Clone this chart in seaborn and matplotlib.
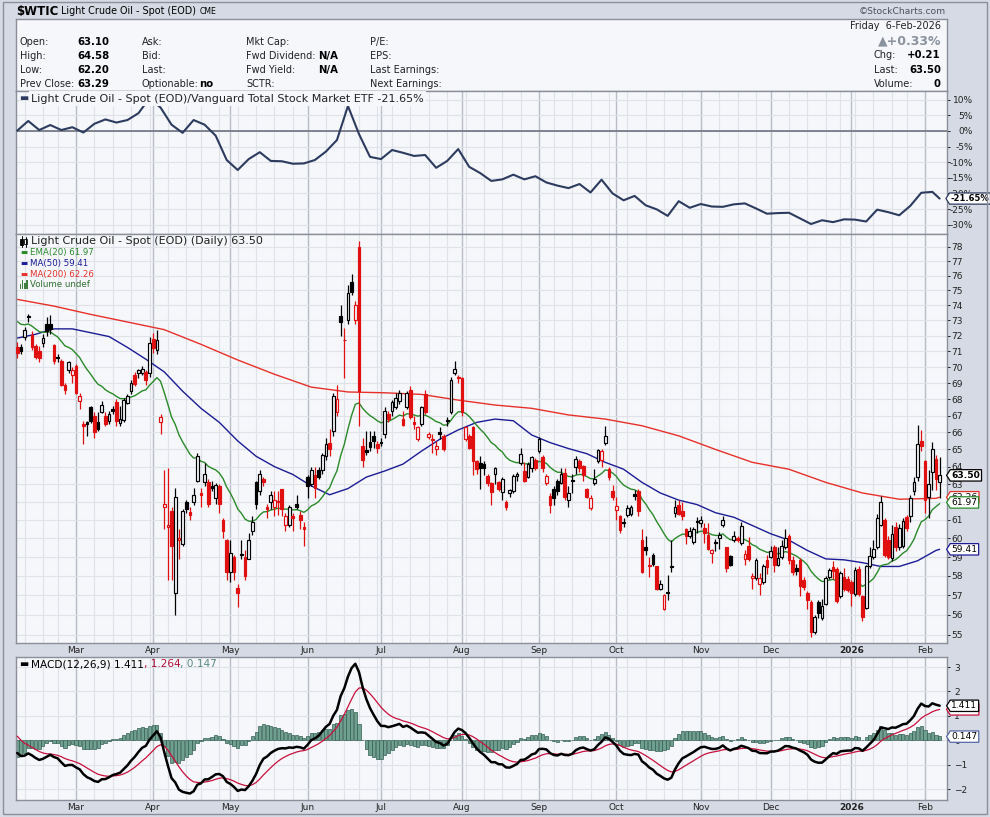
import numpy as np
import pandas as pd
import matplotlib
matplotlib.use("Agg")
import matplotlib.pyplot as plt
import seaborn as sns
from matplotlib.path import Path
from matplotlib.patches import Rectangle
from matplotlib.lines import Line2D
from matplotlib.ticker import FixedLocator, FixedFormatter, NullLocator

# ---------------- data ----------------
holidays = ["2025-02-17", "2025-04-18", "2025-05-26", "2025-06-19", "2025-07-04",
            "2025-09-01", "2025-11-27", "2025-12-25", "2026-01-01", "2026-01-19"]
dates = pd.bdate_range("2025-02-06", "2026-02-06", freq="C", holidays=holidays)

opens = [71.3, 71.3, 71.95, 73.2, 72.05, 71.35, 71.0, 71.55, 72.8, 72.75,
         71.4, 70.6, 70.4, 68.85, 69.8, 69.5, 70.1, 67.9, 66.5, 66.6,
         67.5, 67.0, 66.65, 67.25, 67.0, 66.7, 67.4, 67.85, 66.55, 66.75,
         67.8, 68.5, 69.5, 69.6, 69.65, 69.7, 69.6, 71.8, 71.1, 66.6,
         61.7, 60.6, 61.5, 57.1, 59.9, 59.7, 62.0, 61.45, 62.0, 63.2,
         62.5, 63.1, 63.1, 62.9, 62.2, 62.9, 61.0, 59.9, 58.2, 59.0,
         57.4, 59.15, 59.0, 58.9, 60.4, 63.1, 62.6, 63.3, 61.7, 62.0,
         61.7, 62.05, 62.7, 60.7, 60.7, 61.2, 61.9, 61.3, 60.6, 63.4,
         63.0, 63.5, 63.8, 63.8, 64.6, 65.4, 66.1, 67.2, 73.3, 71.75,
         73.0, 75.6, 73.0, 78.0, 65.2, 64.95, 65.45, 65.8, 65.3, 65.45,
         65.9, 67.1, 67.3, 67.5, 67.9, 66.8, 67.5, 68.6, 66.6, 65.6,
         66.5, 68.3, 65.75, 65.6, 65.0, 66.0, 65.8, 66.75, 67.25, 69.6,
         69.4, 69.3, 65.6, 65.8, 66.3, 64.3, 64.2, 64.15, 63.45, 63.05,
         63.6, 63.1, 62.55, 62.0, 62.5, 62.6, 63.45, 64.2, 63.75, 63.4,
         63.9, 64.4, 64.9, 64.55, 63.05, 62.35, 62.7, 63.15, 63.05, 63.65,
         62.1, 63.25, 64.0, 64.3, 64.05, 62.7, 61.65, 63.05, 64.3, 64.4,
         65.4, 63.85, 62.6, 61.55, 61.2, 60.9, 61.3, 61.35, 62.45, 62.6,
         59.9, 59.55, 58.55, 59.1, 58.5, 57.35, 56.3, 57.15, 58.5, 61.4,
         61.85, 61.5, 60.5, 60.1, 59.8, 60.95, 60.85, 60.55, 60.2, 59.2,
         59.8, 60.0, 60.7, 59.55, 59.05, 59.9, 60.0, 59.75, 58.9, 59.6,
         57.9, 57.9, 57.6, 57.7, 58.85, 59.0, 59.55, 58.6, 59.0, 59.55,
         60.15, 58.85, 58.4, 58.85, 57.8, 57.1, 56.65, 55.15, 56.65, 55.85,
         56.55, 57.95, 58.45, 58.35, 56.95, 57.95, 57.85, 57.7, 57.05, 58.35,
         56.95, 56.35, 58.5, 59.0, 59.55, 60.75, 61.0, 59.9, 58.95, 60.6,
         59.55, 59.6, 61.15, 61.2, 62.6, 63.4, 65.5, 64.3, 62.3, 63.7,
         64.45, 63.10]
highs = [71.6, 71.5, 72.6, 73.4, 72.3, 71.5, 71.35, 72.1, 73.2, 73.35,
         71.5, 70.8, 70.5, 69.0, 70.4, 70.0, 70.2, 68.4, 66.7, 66.7,
         67.6, 67.2, 67.2, 67.9, 67.2, 67.3, 67.6, 68.0, 67.6, 68.1,
         68.3, 69.2, 69.7, 69.9, 70.1, 69.8, 71.9, 72.2, 72.4, 67.1,
         63.8, 63.9, 61.7, 62.8, 60.5, 61.6, 62.1, 61.7, 62.8, 64.8,
         62.8, 64.2, 63.3, 63.2, 63.05, 63.0, 61.1, 59.95, 59.9, 59.1,
         57.6, 59.9, 59.4, 60.3, 61.2, 63.2, 63.8, 63.4, 61.9, 62.6,
         62.6, 62.6, 62.75, 61.4, 61.8, 61.4, 62.4, 61.5, 60.9, 63.5,
         64.0, 64.0, 64.0, 64.8, 65.7, 66.2, 68.4, 68.9, 74.0, 72.5,
         75.4, 76.1, 74.3, 78.4, 65.7, 66.1, 66.1, 66.1, 65.5, 65.7,
         67.5, 67.3, 67.95, 68.4, 68.6, 67.3, 68.5, 68.8, 67.0, 66.4,
         67.6, 68.6, 66.0, 65.9, 65.5, 66.3, 65.9, 66.9, 69.4, 70.4,
         69.5, 69.35, 66.4, 65.9, 66.4, 64.4, 64.6, 64.3, 63.6, 63.1,
         64.0, 63.2, 63.4, 62.1, 62.75, 63.6, 63.7, 65.1, 64.25, 64.25,
         64.6, 64.5, 65.75, 64.65, 63.55, 62.5, 62.9, 63.3, 63.9, 63.9,
         62.9, 63.6, 64.6, 64.45, 64.1, 62.8, 62.4, 63.85, 65.0, 65.0,
         66.4, 64.0, 62.95, 62.3, 61.3, 61.1, 61.8, 61.85, 62.65, 62.7,
         60.5, 60.1, 59.0, 59.2, 58.55, 57.8, 57.05, 58.05, 59.9, 62.1,
         62.1, 62.0, 60.55, 60.6, 60.6, 61.15, 61.2, 60.85, 60.85, 59.45,
         59.95, 60.35, 61.2, 59.55, 59.1, 60.4, 60.1, 60.9, 59.35, 60.05,
         58.15, 58.95, 58.15, 58.65, 59.1, 59.6, 59.65, 59.55, 59.9, 60.5,
         60.25, 59.05, 58.65, 58.95, 57.95, 57.2, 56.75, 56.0, 56.75, 56.8,
         58.0, 58.4, 58.8, 58.45, 58.25, 58.4, 58.0, 57.8, 58.45, 58.5,
         57.0, 58.6, 59.55, 59.9, 61.35, 62.35, 61.1, 60.1, 60.7, 60.9,
         60.8, 61.1, 61.3, 62.4, 63.4, 66.45, 66.15, 64.4, 63.8, 65.45,
         64.7, 64.58]
lows = [70.6, 70.8, 71.75, 72.9, 71.1, 70.5, 70.3, 71.3, 72.0, 72.1,
        70.2, 70.3, 68.8, 68.3, 69.6, 69.0, 68.3, 67.4, 65.3, 65.8,
        66.55, 65.7, 66.1, 67.15, 66.4, 66.5, 67.1, 66.4, 66.4, 66.6,
        67.7, 68.3, 68.8, 69.3, 69.5, 68.9, 69.4, 70.9, 70.8, 65.9,
        60.5, 57.8, 57.8, 56.0, 58.9, 59.6, 61.4, 61.0, 61.8, 63.1,
        61.7, 62.9, 61.7, 62.6, 61.9, 61.4, 60.0, 57.8, 57.7, 57.8,
        56.4, 58.9, 57.8, 58.9, 60.2, 61.6, 62.4, 62.9, 61.1, 61.6,
        61.2, 61.3, 61.2, 60.4, 60.6, 60.4, 61.6, 60.5, 59.6, 62.2,
        62.9, 62.2, 63.3, 63.6, 64.4, 64.6, 65.8, 67.0, 72.0, 69.3,
        72.8, 74.7, 72.8, 66.4, 64.0, 64.7, 64.9, 65.1, 64.8, 65.2,
        65.7, 66.6, 67.0, 67.4, 67.7, 66.4, 67.4, 66.8, 66.2, 65.5,
        66.4, 67.1, 65.6, 64.8, 64.7, 65.6, 64.9, 66.4, 67.1, 69.5,
        69.0, 67.0, 65.5, 65.0, 63.5, 63.6, 62.7, 63.5, 62.9, 61.8,
        63.0, 62.6, 62.1, 61.55, 62.3, 62.5, 63.2, 64.1, 63.1, 63.35,
        63.7, 63.8, 64.8, 63.7, 62.95, 61.4, 61.8, 62.4, 63.0, 62.1,
        61.7, 62.5, 63.6, 63.7, 63.2, 62.2, 61.55, 62.95, 64.2, 64.0,
        65.25, 63.25, 62.1, 61.0, 60.3, 60.6, 61.15, 61.2, 62.1, 61.2,
        58.15, 59.1, 57.95, 58.55, 57.25, 57.25, 56.25, 56.75, 58.2, 61.15,
        61.3, 61.0, 59.7, 60.0, 59.7, 60.3, 60.6, 59.75, 59.35, 58.7,
        59.3, 59.45, 60.6, 58.2, 58.5, 59.8, 59.8, 59.65, 58.6, 58.8,
        57.35, 57.8, 57.0, 57.6, 58.1, 58.95, 58.2, 58.5, 58.9, 59.45,
        58.65, 58.05, 58.05, 56.95, 57.25, 56.3, 54.9, 55.05, 55.85, 55.75,
        56.5, 57.85, 57.85, 56.6, 56.85, 57.2, 57.15, 56.45, 56.95, 56.95,
        55.7, 56.3, 58.4, 58.9, 59.45, 60.65, 59.0, 58.9, 58.8, 59.3,
        59.4, 59.5, 60.4, 60.9, 62.4, 63.2, 64.9, 61.4, 61.1, 62.65,
        62.65, 62.20]
closes = [70.9, 71.0, 72.4, 73.3, 71.3, 70.65, 70.6, 71.85, 72.3, 72.45,
          70.4, 70.55, 68.9, 68.55, 70.3, 69.8, 68.4, 68.2, 66.4, 66.5,
          66.7, 66.0, 66.2, 67.65, 66.5, 67.1, 67.3, 66.7, 66.8, 67.95,
          68.2, 69.0, 68.95, 69.8, 69.9, 69.2, 71.55, 71.2, 71.75, 66.95,
          61.9, 60.7, 59.6, 62.3, 60.0, 61.5, 61.6, 61.3, 62.4, 64.6,
          62.4, 63.6, 61.9, 62.8, 62.95, 61.9, 60.4, 58.2, 59.2, 58.2,
          57.1, 59.1, 58.0, 59.9, 60.9, 61.9, 63.6, 63.1, 61.6, 62.4,
          62.1, 62.0, 61.6, 61.2, 61.7, 61.1, 61.7, 61.0, 60.5, 62.9,
          63.8, 62.8, 63.4, 64.7, 65.3, 65.0, 68.2, 68.0, 72.9, 71.7,
          74.8, 74.9, 74.0, 68.5, 64.4, 64.85, 65.15, 65.5, 65.1, 65.4,
          67.3, 66.8, 67.85, 68.1, 68.4, 66.45, 68.4, 66.95, 66.5, 66.3,
          67.5, 67.2, 65.9, 65.55, 65.2, 65.9, 65.05, 66.7, 69.2, 69.9,
          69.3, 67.25, 66.3, 65.1, 64.3, 63.85, 63.9, 63.95, 63.05, 62.55,
          63.9, 62.75, 63.3, 61.7, 62.65, 63.45, 63.6, 64.75, 63.15, 64.15,
          64.55, 63.9, 65.6, 63.9, 63.45, 61.8, 62.2, 62.6, 63.6, 62.25,
          62.5, 63.2, 64.45, 63.9, 63.5, 62.3, 62.2, 63.3, 64.95, 64.9,
          65.8, 63.4, 62.3, 61.75, 60.45, 60.85, 61.65, 61.7, 62.35, 61.5,
          58.2, 59.4, 58.5, 58.65, 57.35, 57.6, 57.0, 57.1, 58.45, 61.7,
          61.35, 61.2, 60.15, 60.4, 60.5, 60.9, 61.0, 60.3, 59.45, 59.35,
          59.75, 60.2, 61.0, 58.4, 58.6, 60.1, 59.9, 60.65, 59.15, 58.9,
          58.0, 58.85, 57.9, 58.55, 58.45, 59.3, 58.6, 58.95, 59.6, 60.0,
          58.85, 58.2, 58.25, 57.5, 57.45, 56.75, 55.15, 55.9, 56.1, 56.45,
          57.9, 58.3, 58.25, 56.7, 58.15, 57.35, 57.25, 57.1, 58.3, 57.05,
          55.9, 58.5, 59.05, 59.45, 61.1, 62.0, 59.1, 59.0, 60.25, 59.55,
          60.55, 60.95, 60.55, 62.2, 63.1, 65.3, 65.2, 62.1, 63.0, 65.05,
          63.29, 63.50]

# oil / VTI relative line (percent), read every 3rd session plus the last one
ratio_pct = [0.1, 3.2, 0.3, 1.9, 0.3, 1.2, -0.5, 2.3, 3.7, 2.7,
             3.5, 5.7, 10.5, 7.5, 2.0, -0.6, 3.5, 2.0, -1.5, -9.3,
             -12.5, -9.0, -6.8, -9.6, -9.7, -10.5, -10.4, -9.3, -6.6, -2.9,
             8.0, -1.0, -8.3, -9.0, -6.1, -7.0, -8.0, -7.7, -11.8, -9.6,
             -5.8, -11.5, -13.5, -16.0, -15.5, -14.0, -15.5, -14.5, -16.5, -17.5,
             -18.3, -17.0, -19.7, -15.6, -20.0, -22.2, -20.8, -23.8, -25.1, -27.2,
             -22.5, -24.6, -23.4, -24.2, -24.3, -23.5, -23.2, -24.8, -26.5, -26.3,
             -26.2, -28.0, -29.8, -28.6, -29.2, -28.3, -28.4, -29.0, -25.2, -26.0,
             -27.0, -24.0, -19.8, -19.5, -21.65]
# MA(50) read every 5th session, MA(200) every 10th, each plus the last session
ma50_vals = [71.85, 72.1, 72.45, 72.45, 72.2, 71.95, 71.25, 70.5, 69.7, 68.5,
             67.45, 66.6, 65.5, 64.6, 64.0, 63.55, 62.9, 62.4, 62.75, 63.4,
             63.75, 64.15, 64.9, 65.6, 66.15, 66.6, 66.8, 66.7, 65.85, 65.4,
             65.05, 64.75, 64.25, 63.85, 63.1, 62.5, 62.1, 61.85, 61.4, 61.15,
             60.7, 60.25, 59.9, 59.35, 58.9, 58.85, 58.7, 58.5, 58.5, 58.8,
             59.35, 59.41]
ma200_vals = [74.4, 73.95, 73.4, 72.9, 72.4, 71.45, 70.45, 69.55, 68.75, 68.45,
              68.4, 68.3, 67.95, 67.65, 67.45, 67.05, 66.8, 66.4, 65.8, 65.0,
              64.25, 63.85, 63.1, 62.5, 62.15, 62.2, 62.26]

# indicator starting levels at the left edge
ema20_start = 73.15
ema12_start = 73.5
macd_start = -0.34
signal_start = 0.34

# ---------------- derived series ----------------
n = len(closes)
df = pd.DataFrame({"date": dates[:n], "open": opens, "high": highs,
                   "low": lows, "close": closes})
df["i"] = np.arange(n)


def ema(values, span, start):
    a = 2.0 / (span + 1)
    out, e = [], start
    for v in values:
        e = e + a * (v - e)
        out.append(e)
    return np.array(out)


df["ema20"] = ema(df["close"], 20, ema20_start)
fast = ema(df["close"], 12, ema12_start)
slow = ema(df["close"], 26, ema12_start - macd_start)
df["macd"] = fast - slow
df["signal"] = ema(df["macd"], 9, signal_start)
df["histo"] = df["macd"] - df["signal"]

ratio_i = list(range(0, n, 3)) + [n - 1]
ma50_i = list(range(0, n - 1, 5)) + [n - 1]
ma200_i = list(range(0, n - 1, 10)) + [n - 1]

months = df["date"].dt.month.values
month_starts = [i for i in range(1, n) if months[i] != months[i - 1]]
month_labels = ["2026" if df["date"][i].month == 1 else df["date"][i].strftime("%b")
                for i in month_starts]
wk = df["date"].dt.isocalendar().week.values
week_starts = [i for i in range(1, n) if wk[i] != wk[i - 1]]

# ---------------- styling ----------------
sns.set_theme(style="white")
plt.rcParams["font.family"] = ["DejaVu Sans"]

W, H = 990, 817
OUTER = "#d5dae4"
PANEL = "#f5f7fb"
GRID = "#dfe2e8"
GRID_M = "#b9bdc6"
EDGE = "#8a8f9a"
RED = "#e01010"
NAVY = "#2c3b5e"
GREEN = "#2a8a2a"
BLUE = "#1c1c94"
MARED = "#e8302a"
TXT = "#222222"

fig = plt.figure(figsize=(W / 100, H / 100), dpi=100, facecolor=OUTER)


def rect(x0, y0, x1, y1):
    return [x0 / W, 1 - y1 / H, (x1 - x0) / W, (y1 - y0) / H]


def P(x, y):
    return x / W, 1 - y / H


ax_head = fig.add_axes(rect(16, 19, 947, 91))
ax_ratio = fig.add_axes(rect(16, 91, 947, 234))
ax_px = fig.add_axes(rect(16, 234, 947, 643))
ax_macd = fig.add_axes(rect(16, 657, 947, 800))

for ax in (ax_head, ax_ratio, ax_px, ax_macd):
    ax.set_facecolor(PANEL)
    for s in ax.spines.values():
        s.set_color(EDGE)
        s.set_linewidth(1.0)
ax_head.set_xticks([])
ax_head.set_yticks([])

for ax in (ax_ratio, ax_px, ax_macd):
    ax.set_xlim(-0.33, 253.0)
    for w in week_starts:
        ax.axvline(w, color=GRID, lw=0.8, zorder=0)
    for m in month_starts:
        ax.axvline(m, color=GRID_M, lw=1.0, zorder=0)
    ax.yaxis.tick_right()
    ax.tick_params(axis="y", which="both", labelsize=6.5, colors=TXT, length=2.2,
                   width=0.7, direction="out")

# ---------------- ratio panel ----------------
ax_ratio.set_ylim(-33.0, 12.8)
rticks = [10, 5, 0, -5, -10, -15, -20, -25, -30]
for v in rticks:
    ax_ratio.axhline(v, color=GRID, lw=0.8, zorder=0)
ax_ratio.axhline(0, color="#6d7280", lw=1.2, zorder=1)
ax_ratio.set_yticks(rticks)
ax_ratio.set_yticklabels([f"{v}%" for v in rticks])
for t in ax_ratio.get_yticklabels():
    t.set_ha("right")
ax_ratio.tick_params(axis="y", pad=16.5)
ax_ratio.set_xticks([])
sns.lineplot(x=ratio_i, y=ratio_pct, ax=ax_ratio, color=NAVY, linewidth=1.5, zorder=3)

# ---------------- price panel ----------------
ax_px.set_yscale("log")
ax_px.set_ylim(54.605, 78.91)
levels = list(range(55, 79))
for v in levels:
    ax_px.axhline(v, color=GRID, lw=0.8, zorder=0)
ax_px.yaxis.set_major_locator(FixedLocator(levels))
ax_px.yaxis.set_major_formatter(FixedFormatter([str(v) for v in levels]))
ax_px.yaxis.set_minor_locator(NullLocator())
ax_px.tick_params(axis="y", pad=1.0)

sns.lineplot(x=ma200_i, y=ma200_vals, ax=ax_px, color=MARED, linewidth=1.0, zorder=2)
sns.lineplot(x=ma50_i, y=ma50_vals, ax=ax_px, color=BLUE, linewidth=1.0, zorder=2)
sns.lineplot(data=df, x="i", y="ema20", ax=ax_px, color=GREEN, linewidth=1.0, zorder=2)

o = df["open"].values
c = df["close"].values
prev = np.r_[o[0], c[:-1]]
col = np.where(c >= prev, "black", RED)
hollow = c > o
face = np.where(hollow, PANEL, col)
bottom = np.minimum(o, c)
height = np.maximum(np.abs(c - o), 0.06)
ax_px.vlines(df["i"], df["low"], df["high"], colors=col, lw=0.9, zorder=3)
ax_px.bar(df["i"], height, bottom=bottom, width=0.74, color=face, edgecolor=col,
          linewidth=0.85, zorder=4)

# ---------------- MACD panel ----------------
ax_macd.set_ylim(-2.45, 3.41)
mticks = [3, 2, 1, 0, -1, -2]
for v in mticks:
    ax_macd.axhline(v, color=GRID, lw=0.8, zorder=0)
ax_macd.set_yticks(mticks)
ax_macd.tick_params(axis="y", pad=3)
ax_macd.bar(df["i"], df["histo"], width=0.85, color="#6f9f8f", edgecolor="#335f52",
            linewidth=0.5, zorder=2)
sns.lineplot(data=df, x="i", y="signal", ax=ax_macd, color="#c8103c", linewidth=0.9, zorder=3)
sns.lineplot(data=df, x="i", y="macd", ax=ax_macd, color="black", linewidth=1.8, zorder=4)

for ax in (ax_ratio, ax_px, ax_macd):
    ax.set_xlabel("")
    ax.set_ylabel("")

for ax in (ax_px, ax_macd):
    ax.set_xticks(month_starts)
    ax.set_xticklabels(month_labels)
    ax.set_xticks(df["i"], minor=True)
    ax.tick_params(axis="x", which="major", length=0, pad=2, labelsize=6.5, colors=TXT)
    ax.tick_params(axis="x", which="minor", length=2, width=0.6, direction="in", colors="#555")
    for t in ax.get_xticklabels():
        if t.get_text() == "2026":
            t.set_fontweight("bold")


# ---------------- end-value tags ----------------
def tag_box(x0, y0, width, height, mutation_size):
    pad = 0.13 * mutation_size
    x0, y0 = x0 - pad, y0 - pad
    x1, y1 = x0 + width + 2 * pad, y0 + height + 2 * pad
    tip = (y1 - y0) * 0.32
    return Path([(x0, y0), (x1, y0), (x1, y1), (x0, y1), (x0 - tip, (y0 + y1) / 2), (x0, y0)],
                closed=True)


def end_tag(ax, val, txt, ec, bold=False, fs=6.6, dx=3.2):
    ax.annotate(txt, xy=(1.0, val), xycoords=("axes fraction", "data"), xytext=(dx, 0),
                textcoords="offset points", ha="left", va="center", fontsize=fs,
                fontweight="bold" if bold else "normal", color="black",
                bbox=dict(boxstyle=tag_box, fc="white", ec=ec, lw=0.9),
                annotation_clip=False, zorder=10)


end_tag(ax_ratio, -21.65, "-21.65%", NAVY, bold=True, fs=6.0, dx=2.6)
end_tag(ax_px, 62.26, "62.26", MARED)
end_tag(ax_px, 61.97, "61.97", GREEN)
end_tag(ax_px, 59.41, "59.41", BLUE)
end_tag(ax_px, 63.50, "63.50", "black", bold=True)
end_tag(ax_macd, 1.264, "1.264", "#c8103c")
end_tag(ax_macd, 1.411, "1.411", "black")
end_tag(ax_macd, 0.147, "0.147", "#5866a8")

# ---------------- header / legends ----------------
renderer = fig.canvas.get_renderer()


def text_run(x, y, parts):
    for s, cc, size, weight in parts:
        t = fig.text(*P(x, y), s, color=cc, fontsize=size, fontweight=weight,
                     ha="left", va="center")
        x += t.get_window_extent(renderer=renderer).width


text_run(16, 11, [("$WTIC", "black", 8.5, "bold"),
                  (" Light Crude Oil - Spot (EOD) ", "black", 6.9, "normal"),
                  ("CME", "black", 5.6, "normal")])
fig.text(*P(946, 12), "\u00a9StockCharts.com", color="#4a5160", fontsize=6.6,
         ha="right", va="center")

rows = [42, 56, 70, 84]
col1 = [("Open:", "63.10"), ("High:", "64.58"), ("Low:", "62.20"), ("Prev Close:", "63.29")]
col2 = [("Ask:", ""), ("Bid:", ""), ("Last:", ""), ("Optionable:", "no")]
col3 = [("Mkt Cap:", ""), ("Fwd Dividend:", "N/A"), ("Fwd Yield:", "N/A"), ("SCTR:", "")]
col4 = ["P/E:", "EPS:", "Last Earnings:", "Next Earnings:"]
for y, (a, b) in zip(rows, col1):
    fig.text(*P(20, y), a, fontsize=7, va="center", color=TXT)
    fig.text(*P(77, y), b, fontsize=7.3, fontweight="bold", va="center", color="black")
for y, (a, b) in zip(rows, col2):
    fig.text(*P(142, y), a, fontsize=7, va="center", color=TXT)
    fig.text(*P(199, y), b, fontsize=7.3, fontweight="bold", va="center", color="black")
for y, (a, b) in zip(rows, col3):
    fig.text(*P(246, y), a, fontsize=7, va="center", color=TXT)
    fig.text(*P(318, y), b, fontsize=7.3, fontweight="bold", va="center", color="black")
for y, a in zip(rows, col4):
    fig.text(*P(370, y), a, fontsize=7, va="center", color=TXT)

fig.text(*P(941, 26), "Friday  6-Feb-2026", fontsize=7, ha="right", va="center", color=TXT)
fig.text(*P(941, 41), "\u25b2+0.33%", fontsize=9, fontweight="bold", ha="right",
         va="center", color="#8a929e")
for y, a, b in [(55, "Chg:", "+0.21"), (70, "Last:", "63.50"), (84, "Volume:", "0")]:
    fig.text(*P(874, y), a, fontsize=7, va="center", color=TXT)
    fig.text(*P(941, y), b, fontsize=7.3, fontweight="bold", ha="right", va="center",
             color="black")

# ratio legend
fig.text(*P(19, 98.5), "\u25ac", fontsize=7, color=NAVY, va="center")
fig.text(*P(31, 98.5), "Light Crude Oil - Spot (EOD)/Vanguard Total Stock Market ETF -21.65%",
         fontsize=8, va="center", color=TXT, zorder=5,
         bbox=dict(boxstyle="square,pad=0.2", fc=PANEL, ec="none"))

# price legend
for cx, top, bot, btop, bbot, fc in [(21.5, 236, 247, 238.5, 245, "black"),
                                      (25.5, 237, 247, 239, 244, PANEL)]:
    fig.add_artist(Line2D([cx / W, cx / W], [1 - top / H, 1 - bot / H], color="black", lw=0.7))
    fig.add_artist(Rectangle(((cx - 1.3) / W, 1 - bbot / H), 2.6 / W, (bbot - btop) / H,
                             fc=fc, ec="black", lw=0.6, transform=fig.transFigure))
fig.text(*P(31, 241.5), "Light Crude Oil - Spot (EOD) (Daily) 63.50", fontsize=8,
         va="center", color=TXT)
for y, s, cc in [(252.7, "EMA(20) 61.97", GREEN), (263.3, "MA(50) 59.41", BLUE),
                 (274, "MA(200) 62.26", MARED)]:
    fig.text(*P(20, y), "\u25ac", fontsize=5.5, color=cc, va="center")
    fig.text(*P(29.5, y), s, fontsize=6.2, color=cc, va="center")
for k, hgt in enumerate([5, 8, 6, 9]):
    fig.add_artist(Rectangle(((19.5 + k * 2.2) / W, 1 - 288.5 / H), 1.6 / W, hgt / H,
                             fc="#3f7f3f", ec="none", transform=fig.transFigure))
fig.text(*P(29.5, 284.3), "Volume undef", fontsize=6.2, color="#2f6f2f", va="center")

# MACD legend
fig.text(*P(19, 664.5), "\u25ac", fontsize=7, color="black", va="center")
text_run(31, 664.5, [("MACD(12,26,9) 1.411", "black", 7.6, "normal"),
                     (", 1.264", "#b0103a", 7.6, "normal"),
                     (", 0.147", "#5b8c7f", 7.6, "normal")])

fig.add_artist(Rectangle((3 / W, 1 - 814 / H), 984 / W, 812 / H, fill=False, ec=EDGE,
                         lw=1.0, transform=fig.transFigure))

fig.savefig("out.png", dpi=100, facecolor=OUTER)
